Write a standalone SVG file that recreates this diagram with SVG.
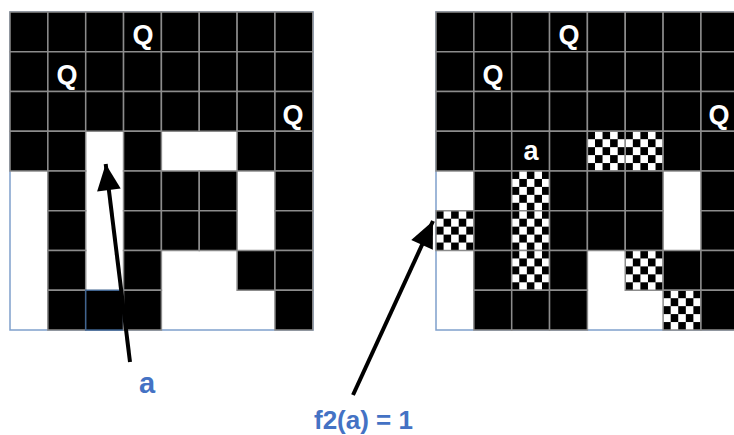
<svg xmlns="http://www.w3.org/2000/svg" width="734" height="435" viewBox="0 0 734 435">
<style>
.b{fill:#000;stroke:#8c8c8c;stroke-width:1.5}
.c{fill:url(#chk);stroke:#8c8c8c;stroke-width:1.5}
.q{font-family:"Liberation Sans",Arial,sans-serif;font-weight:bold;font-size:27px;fill:#fff;text-anchor:middle}
.lbl{font-family:"Liberation Sans",Arial,sans-serif;font-weight:bold;fill:#4472C4}
.frame{fill:#fff;stroke:#7fa0cc;stroke-width:1.5}
.conn{stroke:#000;stroke-width:4;fill:none}
</style>
<defs>
<pattern id="chk" patternUnits="objectBoundingBox" width="0.4" height="0.4" patternContentUnits="objectBoundingBox">
<rect x="0" y="0" width="0.4" height="0.4" fill="#fff"/>
<rect x="0" y="0" width="0.2" height="0.2" fill="#000"/>
<rect x="0.2" y="0.2" width="0.2" height="0.2" fill="#000"/>
</pattern>
<marker id="ah" markerUnits="userSpaceOnUse" markerWidth="30" markerHeight="30" viewBox="-22 -11 24 22" refX="0" refY="0" orient="auto">
<path d="M0,0 L-21,-9.5 L-21,9.5 Z" fill="#000"/>
</marker>
</defs>
<rect width="734" height="435" fill="#fff"/>

<g id="board-left">
<rect class="frame" x="10" y="12" width="303" height="318"/>
<!-- row 0 -->
<rect class="b" x="10" y="12" width="37.85" height="39.75"/>
<rect class="b" x="47.85" y="12" width="37.85" height="39.75"/>
<rect class="b" x="85.7" y="12" width="37.85" height="39.75"/>
<rect class="b" x="123.55" y="12" width="37.85" height="39.75"/>
<rect class="b" x="161.4" y="12" width="37.85" height="39.75"/>
<rect class="b" x="199.25" y="12" width="37.85" height="39.75"/>
<rect class="b" x="237.1" y="12" width="37.85" height="39.75"/>
<rect class="b" x="274.95" y="12" width="37.85" height="39.75"/>
<!-- row 1 -->
<rect class="b" x="10" y="51.75" width="37.85" height="39.75"/>
<rect class="b" x="47.85" y="51.75" width="37.85" height="39.75"/>
<rect class="b" x="85.7" y="51.75" width="37.85" height="39.75"/>
<rect class="b" x="123.55" y="51.75" width="37.85" height="39.75"/>
<rect class="b" x="161.4" y="51.75" width="37.85" height="39.75"/>
<rect class="b" x="199.25" y="51.75" width="37.85" height="39.75"/>
<rect class="b" x="237.1" y="51.75" width="37.85" height="39.75"/>
<rect class="b" x="274.95" y="51.75" width="37.85" height="39.75"/>
<!-- row 2 -->
<rect class="b" x="10" y="91.5" width="37.85" height="39.75"/>
<rect class="b" x="47.85" y="91.5" width="37.85" height="39.75"/>
<rect class="b" x="85.7" y="91.5" width="37.85" height="39.75"/>
<rect class="b" x="123.55" y="91.5" width="37.85" height="39.75"/>
<rect class="b" x="161.4" y="91.5" width="37.85" height="39.75"/>
<rect class="b" x="199.25" y="91.5" width="37.85" height="39.75"/>
<rect class="b" x="237.1" y="91.5" width="37.85" height="39.75"/>
<rect class="b" x="274.95" y="91.5" width="37.85" height="39.75"/>
<!-- row 3 -->
<rect class="b" x="10" y="131.25" width="37.85" height="39.75"/>
<rect class="b" x="47.85" y="131.25" width="37.85" height="39.75"/>
<rect class="b" x="123.55" y="131.25" width="37.85" height="39.75"/>
<rect class="b" x="237.1" y="131.25" width="37.85" height="39.75"/>
<rect class="b" x="274.95" y="131.25" width="37.85" height="39.75"/>
<!-- row 4 -->
<rect class="b" x="47.85" y="171" width="37.85" height="39.75"/>
<rect class="b" x="123.55" y="171" width="37.85" height="39.75"/>
<rect class="b" x="161.4" y="171" width="37.85" height="39.75"/>
<rect class="b" x="199.25" y="171" width="37.85" height="39.75"/>
<rect class="b" x="274.95" y="171" width="37.85" height="39.75"/>
<!-- row 5 -->
<rect class="b" x="47.85" y="210.75" width="37.85" height="39.75"/>
<rect class="b" x="123.55" y="210.75" width="37.85" height="39.75"/>
<rect class="b" x="161.4" y="210.75" width="37.85" height="39.75"/>
<rect class="b" x="199.25" y="210.75" width="37.85" height="39.75"/>
<rect class="b" x="274.95" y="210.75" width="37.85" height="39.75"/>
<!-- row 6 -->
<rect class="b" x="47.85" y="250.5" width="37.85" height="39.75"/>
<rect class="b" x="123.55" y="250.5" width="37.85" height="39.75"/>
<rect class="b" x="237.1" y="250.5" width="37.85" height="39.75"/>
<rect class="b" x="274.95" y="250.5" width="37.85" height="39.75"/>
<!-- row 7 -->
<rect class="b" x="47.85" y="290.25" width="37.85" height="39.75"/>
<rect class="b" x="85.7" y="290.25" width="37.85" height="39.75" style="stroke:#41648f"/>
<rect class="b" x="123.55" y="290.25" width="37.85" height="39.75"/>
<rect class="b" x="274.95" y="290.25" width="37.85" height="39.75"/>
<text class="q" x="143" y="44">Q</text>
<text class="q" x="67" y="84">Q</text>
<text class="q" x="293" y="124">Q</text>
</g>

<g id="board-right" transform="translate(426,0)">
<rect class="frame" x="10" y="12" width="310" height="318"/>
<!-- row 0 -->
<rect class="b" x="10" y="12" width="37.85" height="39.75"/>
<rect class="b" x="47.85" y="12" width="37.85" height="39.75"/>
<rect class="b" x="85.7" y="12" width="37.85" height="39.75"/>
<rect class="b" x="123.55" y="12" width="37.85" height="39.75"/>
<rect class="b" x="161.4" y="12" width="37.85" height="39.75"/>
<rect class="b" x="199.25" y="12" width="37.85" height="39.75"/>
<rect class="b" x="237.1" y="12" width="37.85" height="39.75"/>
<rect class="b" x="274.95" y="12" width="37.85" height="39.75"/>
<!-- row 1 -->
<rect class="b" x="10" y="51.75" width="37.85" height="39.75"/>
<rect class="b" x="47.85" y="51.75" width="37.85" height="39.75"/>
<rect class="b" x="85.7" y="51.75" width="37.85" height="39.75"/>
<rect class="b" x="123.55" y="51.75" width="37.85" height="39.75"/>
<rect class="b" x="161.4" y="51.75" width="37.85" height="39.75"/>
<rect class="b" x="199.25" y="51.75" width="37.85" height="39.75"/>
<rect class="b" x="237.1" y="51.75" width="37.85" height="39.75"/>
<rect class="b" x="274.95" y="51.75" width="37.85" height="39.75"/>
<!-- row 2 -->
<rect class="b" x="10" y="91.5" width="37.85" height="39.75"/>
<rect class="b" x="47.85" y="91.5" width="37.85" height="39.75"/>
<rect class="b" x="85.7" y="91.5" width="37.85" height="39.75"/>
<rect class="b" x="123.55" y="91.5" width="37.85" height="39.75"/>
<rect class="b" x="161.4" y="91.5" width="37.85" height="39.75"/>
<rect class="b" x="199.25" y="91.5" width="37.85" height="39.75"/>
<rect class="b" x="237.1" y="91.5" width="37.85" height="39.75"/>
<rect class="b" x="274.95" y="91.5" width="37.85" height="39.75"/>
<!-- row 3 -->
<rect class="b" x="10" y="131.25" width="37.85" height="39.75"/>
<rect class="b" x="47.85" y="131.25" width="37.85" height="39.75"/>
<rect class="b" x="85.7" y="131.25" width="37.85" height="39.75"/>
<rect class="b" x="123.55" y="131.25" width="37.85" height="39.75"/>
<rect class="c" x="161.4" y="131.25" width="37.85" height="39.75"/>
<rect class="c" x="199.25" y="131.25" width="37.85" height="39.75"/>
<rect class="b" x="237.1" y="131.25" width="37.85" height="39.75"/>
<rect class="b" x="274.95" y="131.25" width="37.85" height="39.75"/>
<!-- row 4 -->
<rect class="b" x="47.85" y="171" width="37.85" height="39.75"/>
<rect class="c" x="85.7" y="171" width="37.85" height="39.75"/>
<rect class="b" x="123.55" y="171" width="37.85" height="39.75"/>
<rect class="b" x="161.4" y="171" width="37.85" height="39.75"/>
<rect class="b" x="199.25" y="171" width="37.85" height="39.75"/>
<rect class="b" x="274.95" y="171" width="37.85" height="39.75"/>
<!-- row 5 -->
<rect class="c" x="10" y="210.75" width="37.85" height="39.75"/>
<rect class="b" x="47.85" y="210.75" width="37.85" height="39.75"/>
<rect class="c" x="85.7" y="210.75" width="37.85" height="39.75"/>
<rect class="b" x="123.55" y="210.75" width="37.85" height="39.75"/>
<rect class="b" x="161.4" y="210.75" width="37.85" height="39.75"/>
<rect class="b" x="199.25" y="210.75" width="37.85" height="39.75"/>
<rect class="b" x="274.95" y="210.75" width="37.85" height="39.75"/>
<!-- row 6 -->
<rect class="b" x="47.85" y="250.5" width="37.85" height="39.75"/>
<rect class="c" x="85.7" y="250.5" width="37.85" height="39.75"/>
<rect class="b" x="123.55" y="250.5" width="37.85" height="39.75"/>
<rect class="c" x="199.25" y="250.5" width="37.85" height="39.75"/>
<rect class="b" x="237.1" y="250.5" width="37.85" height="39.75"/>
<rect class="b" x="274.95" y="250.5" width="37.85" height="39.75"/>
<!-- row 7 -->
<rect class="b" x="47.85" y="290.25" width="37.85" height="39.75"/>
<rect class="b" x="85.7" y="290.25" width="37.85" height="39.75"/>
<rect class="b" x="123.55" y="290.25" width="37.85" height="39.75"/>
<rect class="c" x="237.1" y="290.25" width="37.85" height="39.75"/>
<rect class="b" x="274.95" y="290.25" width="37.85" height="39.75"/>
<text class="q" x="143" y="44">Q</text>
<text class="q" x="67" y="84">Q</text>
<text class="q" x="293" y="124">Q</text>
<text class="q" x="105" y="160">a</text>
</g>

<g id="connectors">
<line class="conn" x1="130" y1="362" x2="105.7" y2="164" marker-end="url(#ah)"/>
<line class="conn" x1="353" y1="395" x2="433" y2="221" marker-end="url(#ah)"/>
</g>

<g id="label-a">
<text class="lbl" x="147" y="393" font-size="29" text-anchor="middle">a</text>
</g>
<g id="label-f2">
<text class="lbl" x="314" y="429" font-size="26">f2(a) = 1</text>
</g>
</svg>
